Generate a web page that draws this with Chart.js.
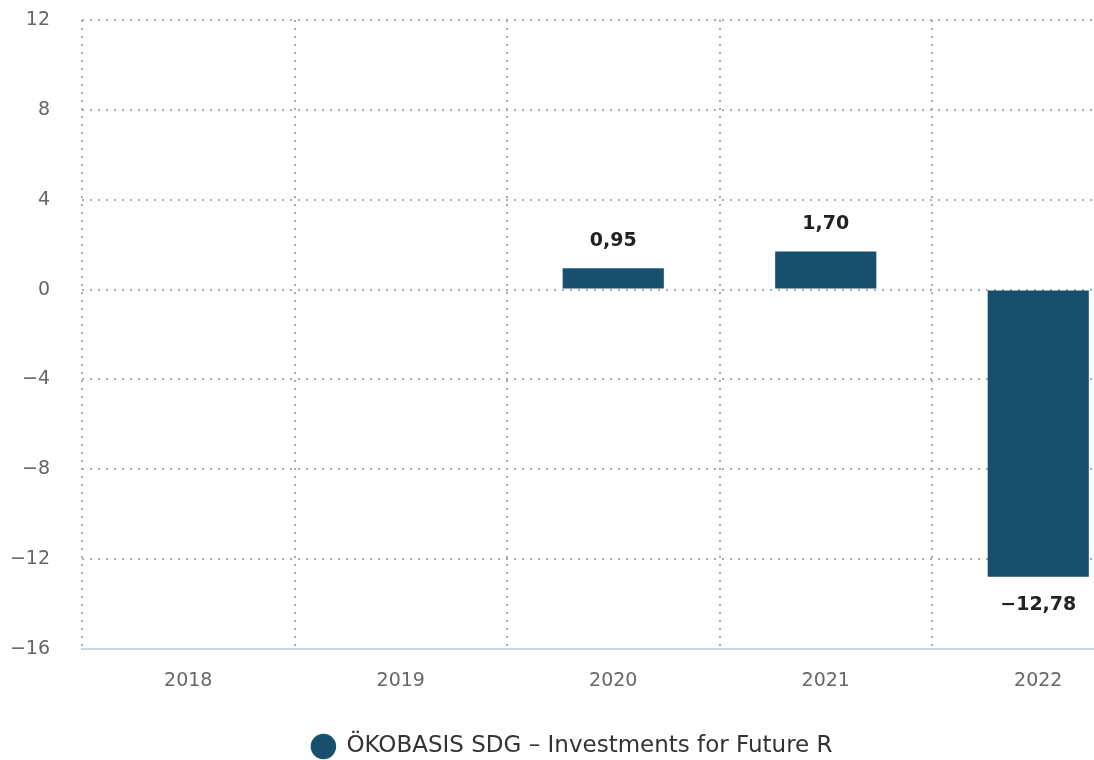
<!DOCTYPE html>
<html>
<head>
<meta charset="utf-8">
<script src="https://cdn.jsdelivr.net/npm/chart.js@4/dist/chart.umd.min.js"></script>
<style>
    body { margin: 0; overflow: hidden; background: #fff; }
    #wrap { width: 1094px; height: 760px; overflow: hidden; }
</style>
</head>
<body>
<div id="wrap"><canvas id="perfChart" width="1168" height="780"></canvas></div>
<script>
const years = ["2018", "2019", "2020", "2021", "2022"];
const returns = [null, null, 0.95, 1.70, -12.78];
const seriesName = "ÖKOBASIS SDG – Investments for Future R";
const yMin = -16;
const yMax = 12;
const yStep = 4;

const fontFamily = "'DejaVu Sans', sans-serif";
const barColor = "#17506d";

function formatNumber(v, digits) {
    return v.toFixed(digits).replace(".", ",").replace("-", "\u2212");
}

const valueLabels = {
    id: "valueLabels",
    afterDatasetsDraw(chart) {
        const ctx = chart.ctx;
        const meta = chart.getDatasetMeta(0);
        ctx.save();
        ctx.font = "bold 19px " + fontFamily;
        ctx.fillStyle = "#222";
        ctx.textAlign = "center";
        ctx.textBaseline = "middle";
        meta.data.forEach((bar, i) => {
            const v = returns[i];
            if (v === null) return;
            const y = v >= 0 ? bar.y - 27 : bar.y + 28;
            ctx.fillText(formatNumber(v, 2), bar.x, y);
        });
        ctx.restore();
    }
};

function renderChart() {
    const ctx = document.getElementById("perfChart").getContext("2d");
    new Chart(ctx, {
        type: "bar",
        data: {
            labels: years,
            datasets: [{
                label: seriesName,
                data: returns,
                backgroundColor: barColor,
                borderWidth: 0,
                barPercentage: 0.476,
                categoryPercentage: 1
            }]
        },
        options: {
            responsive: false,
            animation: false,
            layout: {
                padding: { top: 20, right: 23.5, bottom: 12, left: 0 }
            },
            plugins: {
                tooltip: { enabled: false },
                legend: {
                    position: "bottom",
                    labels: {
                        usePointStyle: true,
                        pointStyle: "circle",
                        boxHeight: 18,
                        padding: 10,
                        color: "#333",
                        font: { family: fontFamily, size: 23 }
                    }
                }
            },
            scales: {
                x: {
                    grid: {
                        color: "#aaa",
                        lineWidth: 2,
                        drawTicks: false
                    },
                    border: { display: true, color: "#ccd6eb", width: 2, dash: [2, 6] },
                    ticks: {
                        color: "#666",
                        padding: 21,
                        font: { family: fontFamily, size: 19 }
                    },
                    afterFit(scale) { scale.height = 76; }
                },
                y: {
                    min: yMin,
                    max: yMax,
                    grid: {
                        color: c => (c.tick && c.tick.value === yMin) ? "transparent" : "#aaa",
                        lineWidth: 2,
                        drawTicks: false
                    },
                    border: { display: false, dash: [2, 6] },
                    ticks: {
                        stepSize: yStep,
                        color: "#666",
                        padding: 32,
                        font: { family: fontFamily, size: 19 },
                        callback: v => String(v).replace("-", "\u2212")
                    },
                    afterFit(scale) {
                        scale.width = 82;
                        scale.paddingTop = 12;
                        scale.paddingBottom = 12;
                    }
                }
            }
        },
        plugins: [valueLabels]
    });
}

document.addEventListener("DOMContentLoaded", renderChart);
</script>
</body>
</html>
